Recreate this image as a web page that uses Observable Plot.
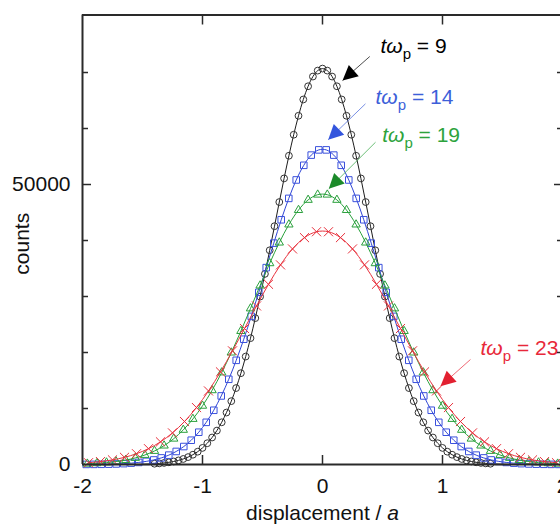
<!DOCTYPE html>
<html><head><meta charset="utf-8">
<script src="https://cdn.jsdelivr.net/npm/d3@7"></script>
<script src="https://cdn.jsdelivr.net/npm/@observablehq/plot@0.6"></script>
<style>
html,body{margin:0;padding:0;background:#fff;}
#chart svg{display:block;overflow:visible;}
</style></head><body><div id="chart"></div>
<script>
// ---- data ----
const blackX = [-2,-1.96,-1.92,-1.88,-1.84,-1.8,-1.76,-1.72,-1.68,-1.64,-1.6,-1.56,-1.52,-1.48,-1.44,-1.4,-1.36,-1.32,-1.28,-1.24,-1.2,-1.16,-1.12,-1.08,-1.04,-1,-0.96,-0.92,-0.88,-0.84,-0.8,-0.76,-0.72,-0.68,-0.64,-0.6,-0.56,-0.52,-0.48,-0.44,-0.4,-0.36,-0.32,-0.28,-0.24,-0.2,-0.16,-0.12,-0.08,-0.04,0,0.04,0.08,0.12,0.16,0.2,0.24,0.28,0.32,0.36,0.4,0.44,0.48,0.52,0.56,0.6,0.64,0.68,0.72,0.76,0.8,0.84,0.88,0.92,0.96,1,1.04,1.08,1.12,1.16,1.2,1.24,1.28,1.32,1.36,1.4,1.44,1.48,1.52,1.56,1.6,1.64,1.68,1.72,1.76,1.8,1.84,1.88,1.92,1.96,2];
const blackY = [0,0,0,1,1,2,3,5,8,13,20,30,46,68,98,141,200,281,390,538,733,989,1321,1747,2287,2962,3799,4822,6058,7536,9281,11313,13651,16306,19277,22563,26141,29981,34037,38252,42556,46866,51089,55133,58892,62274,65185,67543,69279,70342,70700,70342,69279,67543,65185,62274,58892,55133,51089,46866,42556,38252,34037,29981,26141,22563,19277,16306,13651,11313,9281,7536,6058,4822,3799,2962,2287,1747,1321,989,733,538,390,281,200,141,98,68,46,30,20,13,8,5,3,2,1,1,0,0,0];
const blueX = [-1.969,-1.906,-1.844,-1.781,-1.719,-1.656,-1.594,-1.531,-1.469,-1.406,-1.344,-1.281,-1.219,-1.156,-1.094,-1.031,-0.969,-0.906,-0.844,-0.781,-0.719,-0.656,-0.594,-0.531,-0.469,-0.406,-0.344,-0.281,-0.219,-0.156,-0.094,-0.031,0.031,0.094,0.156,0.219,0.281,0.344,0.406,0.469,0.531,0.594,0.656,0.719,0.781,0.844,0.906,0.969,1.031,1.094,1.156,1.219,1.281,1.344,1.406,1.469,1.531,1.594,1.656,1.719,1.781,1.844,1.906,1.969];
const blueY = [14,23,38,63,100,157,243,370,553,812,1174,1670,2332,3207,4335,5763,7533,9686,12243,15220,18606,22370,26447,30748,35155,39528,43705,47521,50812,53430,55250,56182,56182,55250,53430,50812,47521,43705,39528,35155,30748,26447,22370,18606,15220,12243,9686,7533,5763,4335,3207,2332,1670,1174,812,553,370,243,157,100,63,38,23,14];
const greenX = [-1.96,-1.88,-1.8,-1.72,-1.64,-1.56,-1.48,-1.4,-1.32,-1.24,-1.16,-1.08,-1,-0.92,-0.84,-0.76,-0.68,-0.6,-0.52,-0.44,-0.36,-0.28,-0.2,-0.12,-0.04,0.04,0.12,0.2,0.28,0.36,0.44,0.52,0.6,0.68,0.76,0.84,0.92,1,1.08,1.16,1.24,1.32,1.4,1.48,1.56,1.64,1.72,1.8,1.88,1.96];
const greenY = [136,218,342,526,792,1172,1699,2417,3370,4606,6180,8127,10480,13251,16431,19982,23829,27863,31952,35930,39622,42847,45436,47249,48182,48182,47249,45436,42847,39622,35930,31952,27863,23829,19982,16431,13251,10480,8127,6180,4606,3370,2417,1699,1172,792,526,342,218,136];
const redX = [-1.95,-1.85,-1.75,-1.65,-1.55,-1.45,-1.35,-1.25,-1.15,-1.05,-0.95,-0.85,-0.75,-0.65,-0.55,-0.45,-0.35,-0.25,-0.15,-0.05,0.05,0.15,0.25,0.35,0.45,0.55,0.65,0.75,0.85,0.95,1.05,1.15,1.25,1.35,1.45,1.55,1.65,1.75,1.85,1.95];
const redY = [321,522,827,1279,1926,2827,4045,5644,7674,10168,13134,16539,20297,24280,28312,32179,35649,38494,40516,41567,41567,40516,38494,35649,32179,28312,24280,20297,16539,13134,10168,7674,5644,4045,2827,1926,1279,827,522,321];

const xTicks = [-2, -1, 0, 1, 2];
const yMinorTicks = [10000, 20000, 30000, 40000, 60000, 70000];
const yMajorTicks = [0, 50000];

const annKeys = ["9", "14", "19", "23"];
const annLabels = ["tωp = 9", "tωp = 14", "tωp = 19", "tωp = 23"];
const annLabelX = [0.483, 0.442, 0.4975, 1.317];
const annLabelY = [74680, 65590, 58750, 20840];
const annTailX = [0.394, 0.358, 0.442, 1.233];
const annTailY = [72860, 64410, 57550, 18750];
const annTipX = [0.167, 0.0475, 0.0525, 0.983];
const annTipY = [68570, 57980, 49230, 13980];

// ---- styles ----
const W = 560, H = 528;
const mL = 82, mR = -2, mT = 14.5, mB = 64;
const xDomain = [-2, 2], yDomain = [0, 80270];
const style = {
  "9":  {line: "#1c1c1c", marker: "#333333", text: "#000000", head: "#000000", symbol: "circle", r: 3.4},
  "14": {line: "#2f45d6", marker: "#3a50dc", text: "#3d5fd9", head: "#3355dd", symbol: "square", r: 3.7},
  "19": {line: "#27a03a", marker: "#2aa03c", text: "#2da33c", head: "#1c8a2a", symbol: "triangle", r: 3.1},
  "23": {line: "#e8303c", marker: "#e8303c", text: "#e8283a", head: "#e22030", symbol: "times", r: 4.2}
};
const markerLimit = {"9": 1.42, "14": 2, "19": 2, "23": 2};

// ---- tables ----
const series = [["9", blackX, blackY], ["14", blueX, blueY], ["19", greenX, greenY], ["23", redX, redY]];
const rows = series.flatMap(([key, xs, ys]) => xs.map((x, i) => ({key, x, y: ys[i]})));
const ann = annKeys.map((key, i) => ({key, label: annLabels[i], lx: annLabelX[i], ly: annLabelY[i],
  tx: annTailX[i], ty: annTailY[i], hx: annTipX[i], hy: annTipY[i]}));

const pxX = (W - mL - mR) / (xDomain[1] - xDomain[0]);
const pxY = (H - mB - mT) / (yDomain[1] - yDomain[0]);
const headAngle = d => Math.atan2((d.hx - d.tx) * pxX, (d.hy - d.ty) * pxY) * 180 / Math.PI;
const arrowHead = {draw(ctx) { ctx.moveTo(0, 0); ctx.lineTo(-7.5, 15); ctx.lineTo(7.5, 15); ctx.closePath(); }};

const frameColor = "#2a2a2a";
const marks = [];
for (const [key] of series) {
  const s = style[key];
  const data = rows.filter(d => d.key === key);
  marks.push(Plot.line(data, {x: "x", y: "y", stroke: s.line, strokeWidth: 1, curve: "catmull-rom"}));
  marks.push(Plot.dot(data.filter(d => Math.abs(d.x) <= markerLimit[key]),
    {x: "x", y: "y", symbol: s.symbol, r: s.r, fill: "none", stroke: s.marker, strokeWidth: 1}));
}
marks.push(
  Plot.link(ann, {x1: "tx", y1: "ty", x2: "hx", y2: "hy", stroke: d => style[d.key].text, strokeWidth: 0.7}),
  Plot.dot(ann, {x: "hx", y: "hy", symbol: arrowHead, r: 5, fill: d => style[d.key].head, stroke: "none", rotate: headAngle}),
  Plot.text(ann, {x: "lx", y: "ly", text: "label", fill: d => style[d.key].text, textAnchor: "start", fontSize: 21}),
  // frame
  Plot.ruleY([yDomain[1]], {stroke: frameColor, strokeWidth: 2}),
  Plot.ruleY([0], {stroke: frameColor, strokeWidth: 2}),
  Plot.ruleX([xDomain[0]], {stroke: frameColor, strokeWidth: 2}),
  Plot.ruleX([xDomain[1]], {stroke: frameColor, strokeWidth: 2}),
  // inward ticks
  Plot.axisY(yMinorTicks, {anchor: "left", tickSize: -6, tickFormat: () => "", label: null, stroke: frameColor, strokeWidth: 1.5}),
  Plot.axisY(yMinorTicks, {anchor: "right", tickSize: -6, tickFormat: () => "", label: null, stroke: frameColor, strokeWidth: 1.5}),
  Plot.axisY([50000], {anchor: "left", tickSize: -9, tickFormat: () => "", label: null, stroke: frameColor, strokeWidth: 1.5}),
  Plot.axisY([50000], {anchor: "right", tickSize: -9, tickFormat: () => "", label: null, stroke: frameColor, strokeWidth: 1.5}),
  Plot.axisX([-1, 0, 1], {anchor: "bottom", tickSize: -9, tickFormat: () => "", label: null, stroke: frameColor, strokeWidth: 1.5}),
  Plot.axisX([-1, 0, 1], {anchor: "top", tickSize: -9, tickFormat: () => "", label: null, stroke: frameColor, strokeWidth: 1.5}),
  // tick labels
  Plot.axisY(yMajorTicks, {anchor: "left", tickSize: 0, tickPadding: 12, tickFormat: d => String(d), label: null, fontSize: 21, fill: "#111"}),
  Plot.axisX(xTicks, {anchor: "bottom", tickSize: 0, tickPadding: 14, tickFormat: d => String(d), label: null, fontSize: 21, fill: "#111"}),
  // axis titles
  Plot.text(["displacement / a"], {frameAnchor: "bottom", textAnchor: "middle", dy: 55, fontSize: 21, fill: "#111"}),
  Plot.text(["counts"], {frameAnchor: "left", textAnchor: "middle", rotate: -90, dx: -60, dy: 4, fontSize: 21, fill: "#111"})
);

const chart = Plot.plot({
  width: W, height: H,
  marginLeft: mL, marginRight: mR, marginTop: mT, marginBottom: mB,
  x: {domain: xDomain},
  y: {domain: yDomain},
  style: {fontFamily: "'Liberation Sans', Arial, sans-serif", fontSize: "21px", background: "#fff", color: "#111", overflow: "visible"},
  marks
});

// rich text: italics and subscripts
d3.select(chart).selectAll("text").each(function () {
  const s = this.textContent;
  const sel = d3.select(this);
  if (s.startsWith("tωp")) {
    const rest = s.slice(3);
    sel.text(null);
    sel.append("tspan").attr("font-style", "italic").text("tω");
    sel.append("tspan").attr("font-size", 15).attr("dy", 6).text("p");
    sel.append("tspan").attr("dy", -6).text(rest);
  } else if (s === "displacement / a") {
    sel.text(null);
    sel.append("tspan").text("displacement / ");
    sel.append("tspan").attr("font-style", "italic").text("a");
  }
});
document.getElementById("chart").appendChild(chart);
</script></body></html>
